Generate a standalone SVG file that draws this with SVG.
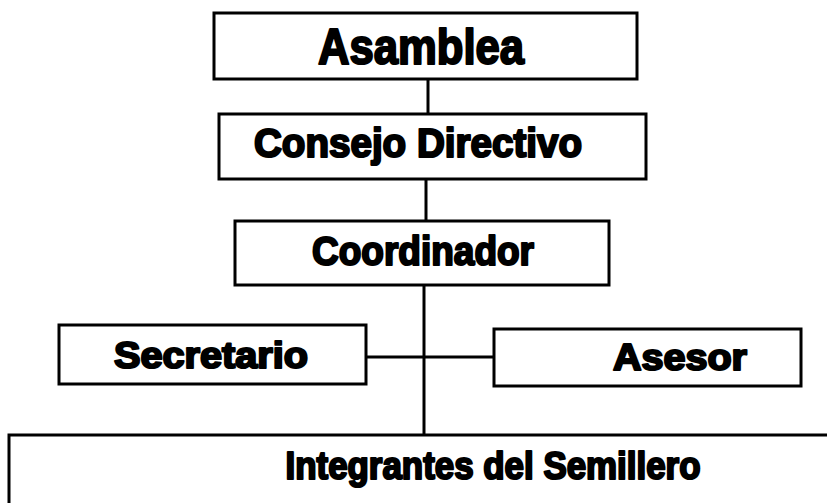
<svg xmlns="http://www.w3.org/2000/svg" width="827" height="503" viewBox="0 0 827 503">
<style>
.box{fill:#fff;stroke:#000;stroke-width:3}
.lbl{font-family:"Liberation Sans",Arial,sans-serif;font-weight:bold;fill:#000;stroke:#000;stroke-width:2.2;stroke-linejoin:round}
.con{stroke:#000;stroke-width:3;fill:none}
</style>
<rect width="827" height="503" fill="#fff"/>
<g id="connectors">
<line class="con" x1="428" y1="79" x2="428" y2="114"/>
<line class="con" x1="426" y1="179" x2="426" y2="221"/>
<line class="con" x1="424" y1="285" x2="424" y2="435"/>
<line class="con" x1="366" y1="357" x2="494" y2="357"/>
</g>
<g id="asamblea">
<rect class="box" x="214" y="13" width="423" height="66"/>
<text class="lbl" x="421" y="64" font-size="50" text-anchor="middle" textLength="206" lengthAdjust="spacingAndGlyphs">Asamblea</text>
</g>
<g id="consejo">
<rect class="box" x="219" y="114" width="427" height="65"/>
<text class="lbl" x="418" y="157" font-size="40" text-anchor="middle" textLength="328" lengthAdjust="spacingAndGlyphs">Consejo Directivo</text>
</g>
<g id="coordinador">
<rect class="box" x="235" y="221" width="374" height="64"/>
<text class="lbl" x="423" y="265" font-size="40" text-anchor="middle" textLength="222" lengthAdjust="spacingAndGlyphs">Coordinador</text>
</g>
<g id="secretario">
<rect class="box" x="59" y="325" width="307" height="59"/>
<text class="lbl" x="211" y="368" font-size="37" text-anchor="middle" textLength="194" lengthAdjust="spacingAndGlyphs">Secretario</text>
</g>
<g id="asesor">
<rect class="box" x="494" y="329" width="307" height="57"/>
<text class="lbl" x="680" y="370" font-size="37" text-anchor="middle" textLength="134" lengthAdjust="spacingAndGlyphs">Asesor</text>
</g>
<g id="integrantes">
<rect class="box" x="9" y="435" width="830" height="80"/>
<text class="lbl" x="493" y="479" font-size="38" text-anchor="middle" textLength="415" lengthAdjust="spacingAndGlyphs">Integrantes del Semillero</text>
</g>
</svg>
